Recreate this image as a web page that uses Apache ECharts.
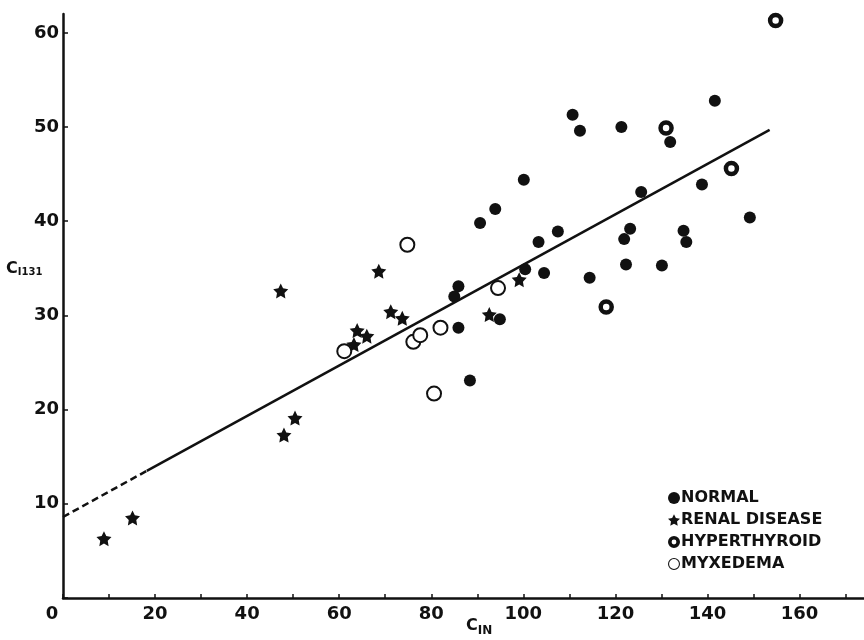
<!DOCTYPE html>
<html>
<head>
<meta charset="utf-8">
<script src="https://cdn.jsdelivr.net/npm/echarts@6/dist/echarts.min.js"></script>
<style>
html,body{margin:0;padding:0;background:#fff;}
#chart{width:864px;height:640px;}
</style>
</head>
<body>
<div id="chart"></div>
<script>
// ---- data ----
const normal = [[85.0,32.0],[85.9,33.1],[85.9,28.7],[88.4,23.1],[90.6,39.8],[93.9,41.3],[94.9,29.6],[100.1,44.4],[100.4,34.9],[103.3,37.8],[104.5,34.5],[107.5,38.9],[110.7,51.3],[112.3,49.6],[114.4,34.0],[121.3,50.0],[121.9,38.1],[122.3,35.4],[123.2,39.2],[125.6,43.1],[130.1,35.3],[131.9,48.4],[134.8,39.0],[135.4,37.8],[138.8,43.9],[141.6,52.8],[149.2,40.4]];
const renal = [[8.9,6.3],[15.1,8.5],[47.3,32.6],[48.0,17.3],[50.4,19.1],[63.2,26.9],[63.9,28.4],[66.0,27.8],[68.6,34.7],[71.2,30.4],[73.7,29.7],[92.6,30.1],[99.1,33.8]];
const hyper = [[118.0,30.9],[131.0,49.9],[145.2,45.6],[154.8,61.3]];
const myx = [[61.1,26.2],[74.8,37.5],[76.1,27.2],[77.6,27.9],[80.6,21.7],[82.0,28.7],[94.5,32.9]];
const fitDashed = [[0,8.6],[18.2,13.5]];
const fitSolid = [[18.2,13.5],[153.5,49.7]];
const xTickLabels = [0,20,40,60,80,100,120,140,160];
const yTickLabels = [10,20,30,40,50,60];
const seriesNames = ['NORMAL','RENAL DISEASE','HYPERTHYROID','MYXEDEMA'];

const INK = '#111';
const FONT = 'DejaVu Sans';
const STAR = 'path://M0,-10L2.94,-4.05L9.51,-3.09L4.76,1.55L5.88,8.09L0,5L-5.88,8.09L-4.76,1.55L-9.51,-3.09L-2.94,-4.05Z';
const RING = 'path://M0,-10A10,10 0 1,1 0,10A10,10 0 1,1 0,-10ZM0,-4A4,4 0 1,0 0,4A4,4 0 1,0 0,-4Z';
const OPEN = 'path://M0,-10A10,10 0 1,1 0,10A10,10 0 1,1 0,-10ZM0,-8.2A8.2,8.2 0 1,0 0,8.2A8.2,8.2 0 1,0 0,-8.2Z';

const chart = echarts.init(document.getElementById('chart'), null, {renderer:'canvas'});
chart.setOption({
  backgroundColor:'#fff',
  animation:false,
  grid:{left:63, top:14, width:801, height:584, containLabel:false},
  xAxis:{
    type:'value', min:0, max:174, interval:10,
    axisLine:{show:true, lineStyle:{color:INK, width:2.5}},
    axisTick:{show:true, inside:true, length:4, lineStyle:{color:INK, width:1.5}},
    splitLine:{show:false},
    axisLabel:{
      showMaxLabel:false, margin:7,
      color:INK, fontFamily:FONT, fontWeight:'bold', fontSize:18,
      formatter:v => xTickLabels.includes(v) ? (v===0 ? '{z|0}' : String(v)) : '',
      rich:{z:{color:INK, fontFamily:FONT, fontWeight:'bold', fontSize:18, padding:[0,22,0,0]}}
    }
  },
  yAxis:{
    type:'value', min:0, max:62, interval:10,
    axisLine:{show:true, lineStyle:{color:INK, width:2.5}},
    axisTick:{show:true, inside:true, length:5, lineStyle:{color:INK, width:1.5}},
    splitLine:{show:false},
    axisLabel:{
      showMaxLabel:false, margin:4,
      color:INK, fontFamily:FONT, fontWeight:'bold', fontSize:18,
      formatter:v => yTickLabels.includes(v) ? String(v) : ''
    }
  },
  legend:{
    data:[
      {name:'NORMAL', icon:'circle', itemStyle:{color:INK}},
      {name:'RENAL DISEASE', icon:STAR, itemStyle:{color:INK}},
      {name:'HYPERTHYROID', icon:RING, itemStyle:{color:INK, borderWidth:0}},
      {name:'MYXEDEMA', icon:OPEN, itemStyle:{color:INK, borderWidth:0}}
    ],
    orient:'vertical', left:663, top:485,
    itemWidth:12, itemHeight:12, itemGap:6,
    textStyle:{color:INK, fontFamily:FONT, fontWeight:'bold', fontSize:16, padding:[0,0,0,-4]},
    selectedMode:false
  },
  graphic:[
    {type:'text', left:6, top:261, style:{
      text:'{c|C}{s|I131}', rich:{
        c:{fontFamily:FONT, fontWeight:'bold', fontSize:16, fill:INK},
        s:{fontFamily:FONT, fontWeight:'bold', fontSize:10, fill:INK, padding:[7,0,0,0]}
      }}},
    {type:'text', left:466, top:618, style:{
      text:'{c|C}{s|IN}', rich:{
        c:{fontFamily:FONT, fontWeight:'bold', fontSize:16, fill:INK},
        s:{fontFamily:FONT, fontWeight:'bold', fontSize:12, fill:INK, padding:[9,0,0,0]}
      }}}
  ],
  series:[
    {name:'fit-dashed', type:'line', data:fitDashed, symbol:'none', silent:true,
     lineStyle:{color:INK, width:2.5, type:[7,4]}, z:1},
    {name:'fit', type:'line', data:fitSolid, symbol:'none', silent:true,
     lineStyle:{color:INK, width:2.5}, z:1},
    {name:'NORMAL', type:'scatter', data:normal, symbol:'circle', symbolSize:12,
     itemStyle:{color:INK, opacity:1}, z:3},
    {name:'RENAL DISEASE', type:'scatter', data:renal, symbol:STAR, symbolSize:15,
     itemStyle:{color:INK, opacity:1}, z:3},
    {name:'HYPERTHYROID', type:'scatter', data:hyper, symbol:'circle', symbolSize:11,
     itemStyle:{color:'#fff', borderColor:INK, borderWidth:4.5, opacity:1}, z:3},
    {name:'MYXEDEMA', type:'scatter', data:myx, symbol:'circle', symbolSize:14,
     itemStyle:{color:'#fff', borderColor:INK, borderWidth:2, opacity:1}, z:3}
  ]
});
</script>
</body>
</html>
